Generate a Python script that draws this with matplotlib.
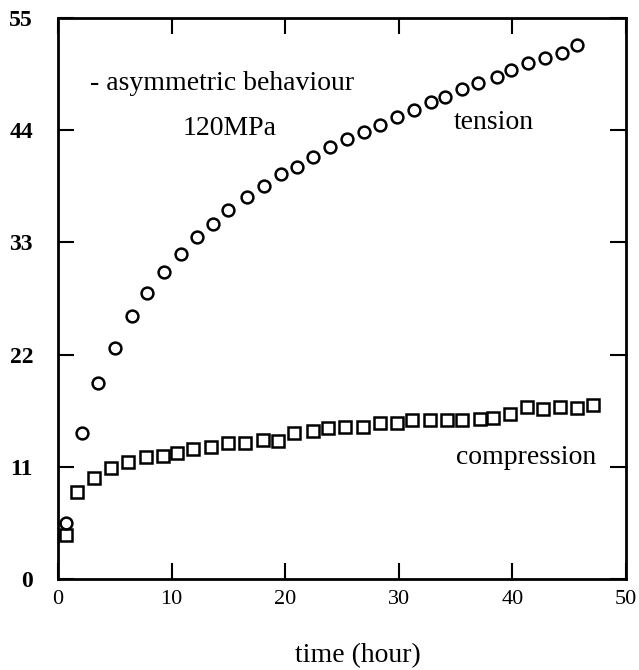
import numpy as np
import matplotlib
matplotlib.use('Agg')
import matplotlib.pyplot as plt

plt.rcParams['font.family'] = ['Liberation Serif', 'DejaVu Serif']

# tension (circles)
t_ten = [0.7, 2.1, 3.5, 5.0, 6.5, 7.8, 9.3, 10.8, 12.2, 13.6, 15.0, 16.6, 18.1, 19.6,
         21.0, 22.4, 23.9, 25.4, 26.9, 28.3, 29.8, 31.3, 32.8, 34.1, 35.6, 37.0, 38.6,
         39.9, 41.4, 42.9, 44.4, 45.7]
s_ten = [5.5, 14.3, 19.2, 22.7, 25.8, 28.0, 30.1, 31.9, 33.5, 34.8, 36.2, 37.5, 38.5, 39.7,
         40.4, 41.4, 42.4, 43.1, 43.8, 44.5, 45.3, 46.0, 46.8, 47.3, 48.0, 48.6, 49.2,
         49.9, 50.6, 51.1, 51.6, 52.4]

# compression (squares)
t_com = [0.7, 1.7, 3.2, 4.7, 6.2, 7.7, 9.2, 10.5, 11.9, 13.5, 15.0, 16.5, 18.0, 19.4,
         20.8, 22.4, 23.8, 25.3, 26.8, 28.3, 29.8, 31.2, 32.7, 34.2, 35.6, 37.1, 38.3,
         39.8, 41.3, 42.7, 44.2, 45.7, 47.1]
s_com = [4.3, 8.5, 9.9, 10.9, 11.5, 12.0, 12.1, 12.4, 12.7, 12.9, 13.3, 13.3, 13.6, 13.5,
         14.3, 14.5, 14.8, 14.9, 14.9, 15.3, 15.3, 15.6, 15.6, 15.6, 15.6, 15.7, 15.8,
         16.2, 16.9, 16.7, 16.9, 16.8, 17.1]

xticks = [0, 10, 20, 30, 40, 50]
yticks = [0, 11, 22, 33, 44, 55]

fig = plt.figure(figsize=(6.39, 6.70), dpi=100)
ax = fig.add_axes([0.0908, 0.1358, 0.889, 0.8372])

ax.plot(t_ten, s_ten, 'o', ms=8.5, mfc='none', mec='black', mew=1.8)
ax.plot(t_com, s_com, 's', ms=9, mfc='none', mec='black', mew=1.8)

ax.set_xlim(0, 50)
ax.set_ylim(0, 55)
ax.set_xticks(xticks)
ax.set_yticks(yticks)
ax.set_xticklabels([str(v) for v in xticks], fontsize=16)
ax.set_yticklabels([str(v) for v in yticks], fontsize=17, fontweight='bold')
ax.tick_params(axis='both', direction='in', length=11.5, width=1.5,
               top=True, right=True)
ax.tick_params(axis='y', pad=18)
ax.tick_params(axis='x', pad=8)
for sp in ax.spines.values():
    sp.set_linewidth(2)

ax.text(2.8, 48.6, '- asymmetric behaviour', fontsize=20, va='center', ha='left')
ax.text(15.1, 44.2, '120MPa', fontsize=20, va='center', ha='center')
ax.text(38.4, 44.8, 'tension', fontsize=20, va='center', ha='center')
ax.text(47.4, 11.9, 'compression', fontsize=20, va='center', ha='right')

fig.text(0.56, 0.021, 'time (hour)', fontsize=20, ha='center', va='center')

fig.savefig('out.png', dpi=100)
